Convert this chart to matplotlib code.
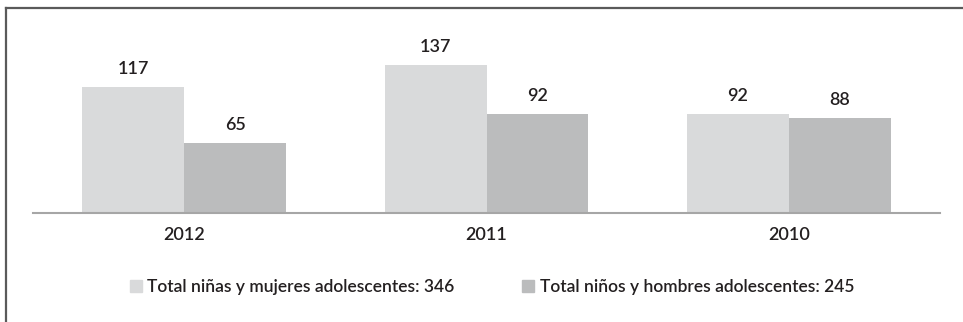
import numpy as np
import matplotlib.pyplot as plt
from matplotlib.lines import Line2D
from matplotlib.patches import Patch

plt.rcParams['font.family'] = ['Lato', 'DejaVu Sans']

# datos
anios = ["2012", "2011", "2010"]
mujeres = [117, 137, 92]  # niñas y mujeres adolescentes
hombres = [65, 92, 88]    # niños y hombres adolescentes
leyenda = ["Total niñas y mujeres adolescentes: 346",
           "Total niños y hombres adolescentes: 245"]

c_claro = "#d9dadb"
c_oscuro = "#bbbcbd"
c_texto = "#231f20"
peso = "semibold"

fig = plt.figure(figsize=(9.63, 3.22), dpi=100)
ax = fig.add_axes([33/963, 109/322, 907/963, 188/322])

x = np.arange(len(anios))
w = 0.337
b1 = ax.bar(x - w/2, mujeres, w, color=c_claro)
b2 = ax.bar(x + w/2, hombres, w, color=c_oscuro)

for barras in (b1, b2):
    for b in barras:
        ax.text(b.get_x() + b.get_width()/2, b.get_height() + 16.5, f"{b.get_height():.0f}",
                ha="center", va="center", fontsize=13, color=c_texto, fontweight=peso)

ax.set_xlim(-0.5, 2.5)
ax.set_ylim(0, 174)
ax.set_xticks(x)
ax.set_xticklabels(anios, fontsize=13, color=c_texto, fontweight=peso)
ax.tick_params(axis="x", length=0, pad=10)
ax.set_yticks([])
for s in ["top", "right", "left"]:
    ax.spines[s].set_visible(False)
ax.spines["bottom"].set_color("#a6a6a6")
ax.spines["bottom"].set_linewidth(1.5)

# leyenda
h = [Patch(color=c_claro), Patch(color=c_oscuro)]
leg = fig.legend(h, leyenda, loc="center", bbox_to_anchor=(492/963, 35/322), ncol=2,
                 frameon=False, handlelength=0.7, handleheight=0.7,
                 handletextpad=0.3, columnspacing=3.9, labelcolor=c_texto,
                 prop={"size": 12.5, "weight": peso})

# marco
fig.add_artist(Line2D([6/963, 6/963], [0, 1 - 7.5/322], color="#5a5a5a", lw=1.6,
                      transform=fig.transFigure))
fig.add_artist(Line2D([6/963, 1], [1 - 7.5/322, 1 - 7.5/322], color="#5a5a5a", lw=1.6,
                      transform=fig.transFigure))

fig.savefig("out.png", dpi=100)
